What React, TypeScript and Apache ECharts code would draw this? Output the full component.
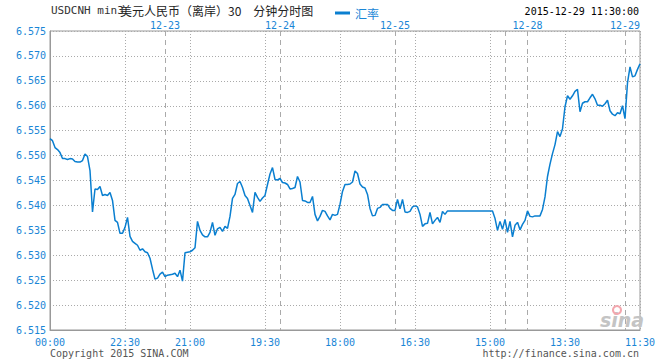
import React, { useEffect, useRef } from "react";
import * as echarts from "echarts";

const rates = [
  6.5534, 6.5530, 6.5516, 6.5512, 6.5506, 6.5494, 6.5494, 6.5492, 6.5494, 6.5493,
  6.5488, 6.5487, 6.5487, 6.5490, 6.5503, 6.5498, 6.5470, 6.5387, 6.5433, 6.5432,
  6.5438, 6.5420, 6.5422, 6.5420, 6.5426, 6.5410, 6.5370, 6.5366, 6.5344, 6.5344,
  6.5356, 6.5376, 6.5338, 6.5328, 6.5324, 6.5320, 6.5310, 6.5313, 6.5307, 6.5305,
  6.5294, 6.5272, 6.5252, 6.5254, 6.5262, 6.5266, 6.5257, 6.5260, 6.5261, 6.5262,
  6.5264, 6.5257, 6.5270, 6.5248, 6.5305, 6.5306, 6.5307, 6.5310, 6.5315, 6.5368,
  6.5350, 6.5341, 6.5337, 6.5337, 6.5346, 6.5366, 6.5340, 6.5353, 6.5356, 6.5348,
  6.5358, 6.5354, 6.5378, 6.5414, 6.5422, 6.5444, 6.5448, 6.5436, 6.5420, 6.5414,
  6.5400, 6.5386, 6.5426, 6.5416, 6.5408, 6.5415, 6.5420, 6.5442, 6.5463, 6.5476,
  6.5452, 6.5451, 6.5454, 6.5446, 6.5445, 6.5442, 6.5433, 6.5434, 6.5436, 6.5458,
  6.5447, 6.5410, 6.5409, 6.5406, 6.5406, 6.5418, 6.5382, 6.5369, 6.5378, 6.5390,
  6.5388, 6.5379, 6.5371, 6.5382, 6.5380, 6.5382, 6.5402, 6.5428, 6.5442, 6.5442,
  6.5443, 6.5447, 6.5469, 6.5464, 6.5443, 6.5437, 6.5435, 6.5422, 6.5394, 6.5379,
  6.5380, 6.5394, 6.5396, 6.5402, 6.5402, 6.5402, 6.5394, 6.5390, 6.5390, 6.5412,
  6.5393, 6.5412, 6.5387, 6.5386, 6.5388, 6.5397, 6.5399, 6.5397, 6.5382, 6.5358,
  6.5363, 6.5364, 6.5386, 6.5363, 6.5370, 6.5376, 6.5366, 6.5388, 6.5382, 6.5389,
  6.5389, 6.5389, 6.5389, 6.5389, 6.5389, 6.5389, 6.5389, 6.5389, 6.5389, 6.5389,
  6.5389, 6.5389, 6.5389, 6.5389, 6.5389, 6.5389, 6.5389, 6.5389, 6.5374, 6.5350,
  6.5368, 6.5352, 6.5372, 6.5346, 6.5368, 6.5337, 6.5360, 6.5366, 6.5351, 6.5362,
  6.5370, 6.5389, 6.5378, 6.5377, 6.5379, 6.5379, 6.5379, 6.5392, 6.5417, 6.5458,
  6.5483, 6.5504, 6.5522, 6.5548, 6.5538, 6.5554, 6.5598, 6.5620, 6.5613, 6.5620,
  6.5629, 6.5633, 6.5588, 6.5605, 6.5608, 6.5608, 6.5616, 6.5623, 6.5614, 6.5601,
  6.5601, 6.5599, 6.5604, 6.5611, 6.5590, 6.5583, 6.5580, 6.5586, 6.5584, 6.5600,
  6.5574, 6.5646, 6.5678, 6.5658, 6.5660, 6.5673, 6.5684,
];

const timeTickIdx = [0, 30, 56, 86, 116, 146, 176, 206, 236];
const timeLabels = ["00:00", "22:30", "21:00", "19:30", "18:00", "16:30", "15:00", "13:30", "11:30"];
const dayBreakIdx = [46, 92, 138, 182, 191, 230];
const dayLabelIdx = [46, 92, 138, 191, 230];
const dayLabels = ["12-23", "12-24", "12-25", "12-28", "12-29"];
const yMin = 6.515;
const yMax = 6.575;
const yStep = 0.005;

export default function App() {
  const ref = useRef<HTMLDivElement>(null);
  useEffect(() => {
    const chart = echarts.init(ref.current!, null, { renderer: "svg" });
    const cats = rates.map((_, i) => String(i));
    const blue = "#0a7fd0";
    const labelBlue = "#1a86d6";
    const mono = "DejaVu Sans Mono";
    const cjk = "Noto Sans CJK SC";
    const option: any = {
      animation: false,
      backgroundColor: "#ffffff",
      grid: { left: 50, right: 20, top: 31, bottom: 30, show: true, borderColor: "#999", borderWidth: 1 },
      legend: {
        data: ["汇率"],
        left: 330,
        top: 2,
        icon: "rect",
        itemWidth: 15,
        itemHeight: 3,
        itemGap: 5,
        textStyle: { color: labelBlue, fontSize: 12, fontFamily: cjk, padding: [0, 0, 0, 0] },
      },
      xAxis: [
        {
          type: "category",
          data: cats,
          boundaryGap: false,
          position: "bottom",
          axisLine: { show: true, lineStyle: { color: "#999" } },
          axisTick: { show: false },
          axisLabel: {
            interval: (i: number) => timeTickIdx.includes(i),
            formatter: (_v: string, i: number) => {
              const k = timeTickIdx.indexOf(i);
              return k >= 0 ? timeLabels[k] : "";
            },
            color: labelBlue,
            fontFamily: mono,
            fontSize: 10,
            margin: 7,
            showMinLabel: true,
            showMaxLabel: true,
          },
          splitLine: {
            show: true,
            interval: (i: number) => timeTickIdx.includes(i),
            lineStyle: { color: "#aaa", type: [1, 2], width: 1 },
          },
        },
        {
          type: "category",
          data: cats,
          boundaryGap: false,
          position: "top",
          axisLine: { show: false },
          axisTick: { show: false },
          axisLabel: {
            interval: (i: number) => dayLabelIdx.includes(i),
            formatter: (_v: string, i: number) => {
              const k = dayLabelIdx.indexOf(i);
              return k >= 0 ? dayLabels[k] : "";
            },
            color: labelBlue,
            fontFamily: mono,
            fontSize: 10,
            lineHeight: 10,
            margin: 1,
          },
          splitLine: {
            show: true,
            interval: (i: number) => dayBreakIdx.includes(i),
            lineStyle: { color: "#aaa", type: [5, 4], width: 1 },
          },
        },
      ],
      yAxis: {
        type: "value",
        min: yMin,
        max: yMax,
        interval: yStep,
        axisLine: { show: true, lineStyle: { color: "#999" } },
        axisTick: { show: false },
        axisLabel: {
          formatter: (v: number) => v.toFixed(3),
          color: labelBlue,
          fontFamily: mono,
          fontSize: 10,
          margin: 4,
        },
        splitLine: { show: true, lineStyle: { color: "#aaa", type: [1, 2], width: 1 } },
      },
      series: [
        {
          name: "汇率",
          type: "line",
          xAxisIndex: 0,
          data: rates,
          symbol: "none",
          lineStyle: { color: blue, width: 1.5 },
          itemStyle: { color: blue },
        },
      ],
      graphic: [
        {
          type: "text",
          x: 51,
          y: 10,
          style: { text: "USDCNH min3", font: `11px '${mono}'`, fill: "#333", align: "left", verticalAlign: "middle" },
        },
        {
          type: "text",
          x: 120,
          y: 10,
          style: { text: "美元人民币（离岸）30　分钟分时图", font: `12px '${cjk}'`, fill: "#222", align: "left", verticalAlign: "middle" },
        },
        {
          type: "text",
          x: 639,
          y: 11,
          style: { text: "2015-12-29 11:30:00", font: `10px '${mono}'`, fill: "#000", align: "right", verticalAlign: "middle" },
        },
        {
          type: "text",
          x: 50,
          y: 353,
          style: { text: "Copyright 2015 SINA.COM", font: `10px '${mono}'`, fill: "#555", align: "left", verticalAlign: "middle" },
        },
        {
          type: "text",
          x: 639,
          y: 353,
          style: { text: "http://finance.sina.com.cn", font: `10px '${mono}'`, fill: "#555", align: "right", verticalAlign: "middle" },
        },
        {
          type: "ring",
          shape: { cx: 617, cy: 310, r: 5, r0: 3 },
          style: { fill: "#f3a7ae" },
          z: 10,
        },
        {
          type: "text",
          x: 622,
          y: 320,
          style: { text: "sina", font: `italic bold 19px 'DejaVu Sans'`, fill: "#c4c4c4", align: "center", verticalAlign: "middle" },
          z: 9,
        },
      ],
    };
    chart.setOption(option);
    return () => chart.dispose();
  }, []);
  return <div ref={ref} style={{ position: "absolute", left: 0, top: 0, width: 660, height: 360 }} />;
}
